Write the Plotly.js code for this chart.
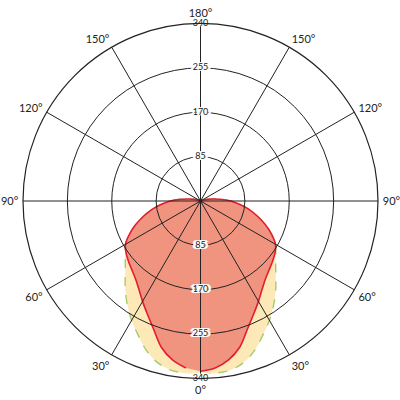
<!DOCTYPE html>
<html>
<head>
<meta charset="utf-8">
<script src="https://cdn.plot.ly/plotly-3.0.1.min.js"></script>
<style>html,body{margin:0;padding:0;background:#fff;}#chart{width:400px;height:400px;}</style>
</head>
<body>
<div id="chart"></div>
<script>
// Angles (degrees, 0 = bottom)
const angles = [0,5,10,15,20,25,30,35,40,45,50,55,60,65,70,75,80,85,90,95,100,105,110,115,120,125,130,135,140,145,150,155,160,165,170,175,180,185,190,195,200,205,210,215,220,225,230,235,240,245,250,255,260,265,270,275,280,285,290,295,300,305,310,315,320,325,330,335,340,345,350,355];
// Red (solid) curve
const redValues = [326,321,309,290,262,240,222,206,194,186,180,174,166,150,132,113,95,76,58,38,22,12,6,3,1,0,0,0,0,0,0,0,0,0,0,0,0,0,0,0,0,0,0,0,0,0,0,0,1,3,6,12,22,38,58,76,95,113,132,150,166,174,180,186,194,206,222,240,262,290,309,321];
// Yellow (dashed) curve
const yellowValues = [332,331,329,320,304,283,264,244,224,204,188,176,166,150,132,113,95,76,58,38,22,12,6,3,1,0,0,0,0,0,0,0,0,0,0,0,0,0,0,0,0,0,0,0,0,0,0,0,1,3,6,12,22,38,58,76,95,113,132,150,166,176,188,204,224,244,264,283,304,320,329,331];
// Radial ticks
const radialTicks = [85,170,255,340];
const radialLabels = ['85','170','255','340'];
// Angular ticks
const angleTicks = [0,30,60,90,120,150,180,210,240,270,300,330];
const angleLabels = ['0°','30°','60°','90°','120°','150°','180°','150°','120°','90°','60°','30°'];

const labelR = radialTicks.concat(radialTicks);
const labelTheta = radialTicks.map(()=>180).concat(radialTicks.map(()=>0));
const labelText = radialLabels.concat(radialLabels);

const FONT = 'Lato, Open Sans, sans-serif';
const halo = 'white 2px 0 0, white -2px 0 0, white 0 1px 0, white 0 -1px 0, white 3px 0 0, white -3px 0 0, white 2px 1px 0, white -2px -1px 0, white 2px -1px 0, white -2px 1px 0';

const traces = [
  {type:'scatterpolar', subplot:'polar', r: yellowValues, theta: angles, mode:'lines', fill:'toself',
   fillcolor:'rgb(253,232,183)', line:{color:'rgb(165,202,105)', width:1.4, dash:'dash', shape:'spline'}, hoverinfo:'skip'},
  {type:'scatterpolar', subplot:'polar', r: redValues, theta: angles, mode:'lines', fill:'toself',
   fillcolor:'rgb(240,148,128)', line:{color:'rgb(228,28,48)', width:1.6, shape:'spline'}, hoverinfo:'skip'},
  {type:'scatterpolar', subplot:'polar2', r: labelR, theta: labelTheta, mode:'text', text: labelText,
   textposition:'middle center', textfont:{family:FONT, size:9, color:'#222', shadow: halo}, hoverinfo:'skip'}
];

const layout = {
  width:400, height:400,
  margin:{l:23, r:22, t:22, b:20},
  paper_bgcolor:'#fff',
  showlegend:false,
  font:{family:FONT, color:'#222'},
  polar:{
    domain:{x:[0,1], y:[0,1]},
    bgcolor:'#fff',
    radialaxis:{range:[0,340], showgrid:false, showline:false, showticklabels:false, ticks:''},
    angularaxis:{rotation:-90, direction:'counterclockwise', showgrid:false, showline:false, showticklabels:false, ticks:''}
  },
  polar2:{
    domain:{x:[0,1], y:[0,1]},
    bgcolor:'rgba(0,0,0,0)',
    radialaxis:{range:[0,340], tickmode:'array', tickvals:radialTicks, showticklabels:false, ticks:'',
      showgrid:true, gridcolor:'#222', gridwidth:1, showline:false, angle:90},
    angularaxis:{rotation:-90, direction:'counterclockwise', tickmode:'array', tickvals:angleTicks, ticktext:angleLabels,
      showgrid:true, gridcolor:'#222', gridwidth:1, showline:true, linecolor:'#222', linewidth:1.2,
      ticks:'outside', ticklen:2, tickcolor:'rgba(0,0,0,0)',
      tickfont:{family:FONT, size:11, color:'#222'}}
  }
};

Plotly.newPlot('chart', traces, layout, {staticPlot:true, displayModeBar:false});
</script>
</body>
</html>
